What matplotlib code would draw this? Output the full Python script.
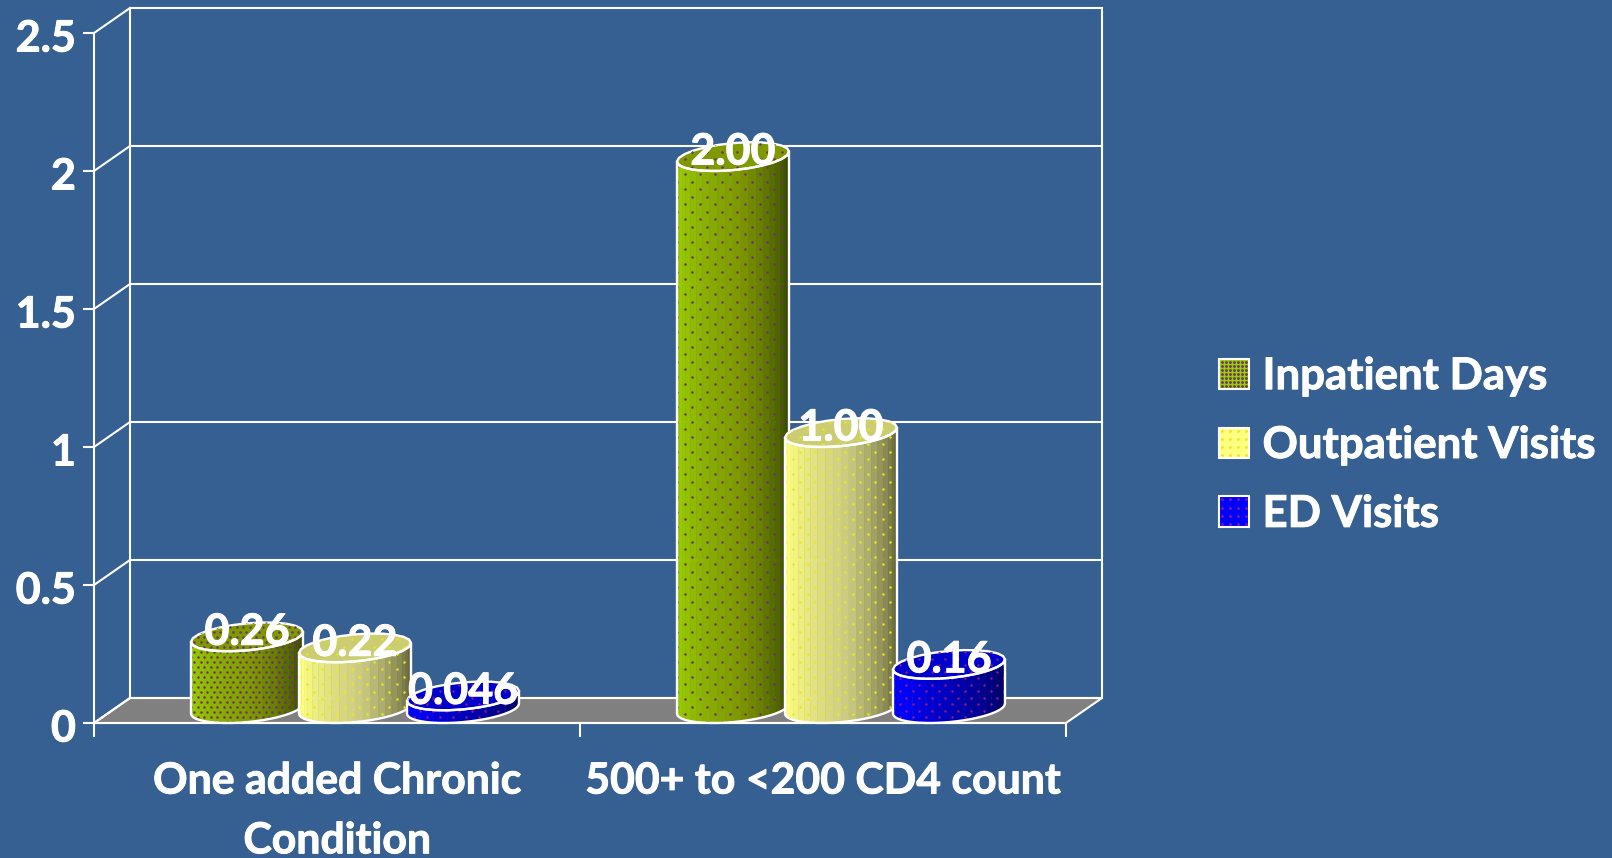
# -*- coding: utf-8 -*-
import numpy as np
import matplotlib
matplotlib.use("Agg")
import matplotlib.pyplot as plt
import matplotlib.patheffects as pe
from matplotlib.colors import LinearSegmentedColormap
from matplotlib.legend_handler import HandlerBase
from matplotlib.lines import Line2D
from matplotlib.patches import Polygon, Rectangle
from matplotlib.transforms import ScaledTranslation

# values
categories = ["One added Chronic\nCondition", "500+ to <200 CD4 count"]
series_names = ["Inpatient Days", "Outpatient Visits", "ED Visits"]
inpatient_days = [0.26, 2.00]
outpatient_visits = [0.22, 1.00]
ed_visits = [0.046, 0.16]
value_labels = [["0.26", "2.00"], ["0.22", "1.00"], ["0.046", "0.16"]]
y_ticks = [0, 0.5, 1, 1.5, 2, 2.5]
y_tick_labels = ["0", "0.5", "1", "1.5", "2", "2.5"]

# style
BG = "#366092"
FONT = "Lato"
W, H = 1612, 858
FRONT_L, FRONT_R, FRONT_B, FRONT_T = 94, 1066, 723, 33
DEPTH_X, DEPTH_Y = 36, 25
LW = 1.5

shades = [
    LinearSegmentedColormap.from_list("g", [(0, "#8fbb00"), (0.1, "#99cc00"), (0.55, "#7d9600"), (1, "#2c3a00")]),
    LinearSegmentedColormap.from_list("y", [(0, "#ffffb0"), (0.1, "#ffff80"), (0.55, "#c9c980"), (1, "#55552c")]),
    LinearSegmentedColormap.from_list("b", [(0, "#0000e0"), (0.2, "#0000ff"), (0.55, "#0000b0"), (1, "#000050")]),
]
top_colors = ["#7f9900", "#cccc70", "#0000cc"]
dot_colors = ["#6e2f70", "#e8e820", "#8a1a8a"]
THICK = [pe.withStroke(linewidth=0.7, foreground="white")]

plt.rcParams["font.family"] = [FONT, "DejaVu Sans"]
plt.rcParams["font.weight"] = "bold"

fig = plt.figure(figsize=(W / 100, H / 100), dpi=100, facecolor=BG)
ax = fig.add_axes([FRONT_L / W, (H - FRONT_B) / H,
                   (FRONT_R - FRONT_L) / W, (FRONT_B - FRONT_T) / H])
ax.set_xlim(0, 2)
ax.set_ylim(0, 2.5)
ax.patch.set_alpha(0)

# data units per pixel
ux = 2 / (FRONT_R - FRONT_L)
uy = 2.5 / (FRONT_B - FRONT_T)
dx = DEPTH_X * ux
dy = DEPTH_Y * uy
LINE = dict(color="white", lw=LW, clip_on=False, solid_capstyle="projecting")

# floor and back walls
ax.add_patch(Polygon([(0, 0), (2, 0), (2 + dx, dy), (dx, dy)], facecolor="#808080",
                     edgecolor="white", lw=LW, clip_on=False, zorder=1))
for t in y_ticks:
    ax.plot([dx, 2 + dx], [t + dy, t + dy], zorder=1.5, **LINE)
    ax.plot([0, dx], [t, t + dy], zorder=1.5, **LINE)
ax.plot([dx, dx], [dy, 2.5 + dy], zorder=1.5, **LINE)
ax.plot([2 + dx, 2 + dx], [dy, 2.5 + dy], zorder=1.5, **LINE)


def draw_cylinder(x, value, idx, row_step, col_step, z):
    a = 56 * ux
    b = 13.5 * uy
    s = 5 * uy
    cx = x + dx / 2
    cy = 14.4 * uy
    ts = np.linspace(np.pi, 2 * np.pi, 23)
    xs = cx + a * np.cos(ts)
    ys = cy + b * np.sin(ts) + s * np.cos(ts)
    for i in range(len(ts) - 1):
        f = (i + 0.5) / (len(ts) - 1)
        ax.add_patch(Polygon([(xs[i], ys[i]), (xs[i + 1], ys[i + 1]),
                              (xs[i + 1], ys[i + 1] + value), (xs[i], ys[i] + value)],
                             facecolor=shades[idx](f), edgecolor=shades[idx](f), lw=0.3,
                             clip_on=False, zorder=z))
    outline = np.vstack([np.column_stack([xs, ys]),
                         np.column_stack([xs[::-1], ys[::-1] + value])])
    ax.add_patch(Polygon(outline, fill=False, edgecolor="white", lw=LW + 0.2, clip_on=False,
                         zorder=z + 0.3, joinstyle="round"))

    # top cap
    tt = np.linspace(0, 2 * np.pi, 25)
    cap = np.column_stack([cx + a * np.cos(tt),
                           cy + value + b * np.sin(tt) + s * np.cos(tt)])
    ax.add_patch(Polygon(cap, facecolor=top_colors[idx], edgecolor="white", lw=LW + 0.2,
                         clip_on=False, zorder=z + 0.1))

    # printed dot pattern over the side and the cap
    rows = np.arange(ys.min() - 14 * uy, ys.max() + value + 14 * uy, row_step * uy)
    px, py = [], []
    for r, yr in enumerate(rows):
        start = cx - a + (col_step / 2 if r % 2 else 0) * ux
        cols = np.arange(start, cx + a, col_step * ux)
        px.extend(cols)
        py.extend([yr] * len(cols))
    side_dots = ax.scatter(px, py, s=3.2, color=dot_colors[idx], linewidths=0, zorder=z + 0.05)
    side_dots.set_clip_path(Polygon(outline, transform=ax.transData))
    cap_dots = ax.scatter(px, py, s=3.2, color=dot_colors[idx], linewidths=0, zorder=z + 0.2)
    cap_dots.set_clip_path(Polygon(cap, transform=ax.transData))


all_series = [inpatient_days, outpatient_visits, ed_visits]
bar_step = 108 * ux
for c in range(len(categories)):
    for i, vals in enumerate(all_series):
        x = c + 0.5 + (i - 1) * bar_step
        # the first green column has a tighter pattern than the others
        if c == 0 and i == 0:
            steps = (5, 6.5)
        elif i == 2:
            steps = (6.5, 13)
        else:
            steps = (7.5, 15)
        draw_cylinder(x, vals[c], i, steps[0], steps[1], 3 + i + c * 4)
        ax.annotate(value_labels[i][c], (x + dx / 2, vals[c] + dy / 2), xytext=(0, 7),
                    textcoords="offset pixels", ha="center", va="center", color="white",
                    fontsize=31, fontweight="bold", zorder=30, annotation_clip=False,
                    path_effects=THICK)

# axis lines, ticks, labels
for name in ["top", "right"]:
    ax.spines[name].set_visible(False)
for name in ["left", "bottom"]:
    ax.spines[name].set_color("white")
    ax.spines[name].set_linewidth(LW)
    ax.spines[name].set_zorder(2)
ax.set_yticks(y_ticks)
ax.set_yticklabels(y_tick_labels)
ax.set_xticks([0, 1, 2])
ax.set_xticklabels([])
ax.set_xticks([0.5, 1.5], minor=True)
ax.set_xticklabels(categories, minor=True, linespacing=1.6)
ax.tick_params(axis="y", colors="white", length=8, width=LW, labelsize=31, pad=5)
ax.tick_params(axis="x", which="major", colors="white", length=10, width=LW)
ax.tick_params(axis="x", which="minor", colors="white", length=0, labelsize=30.8, pad=27)
shift = ScaledTranslation(0, -2 / 100, fig.dpi_scale_trans)
for lab in ax.get_yticklabels():
    lab.set_transform(lab.get_transform() + shift)
    lab.set_path_effects(THICK)
for lab in ax.get_xticklabels(minor=True):
    lab.set_path_effects(THICK)


class DottedSwatch(HandlerBase):
    def create_artists(self, legend, orig_handle, xd, yd, width, height, fontsize, trans):
        i = series_names.index(orig_handle.get_label())
        rect = Rectangle((-xd, -yd), width, height, facecolor=orig_handle.get_facecolor(),
                         edgecolor="white", lw=LW, transform=trans)
        n = 7 if i == 0 else 4
        gx, gy = np.meshgrid(np.linspace(0.1, 0.9, n), np.linspace(0.1, 0.9, n))
        dots = Line2D(-xd + gx.ravel() * width, -yd + gy.ravel() * height, ls="none",
                      marker="o", ms=2, mew=0, color=dot_colors[i], transform=trans)
        return [rect, dots]


swatch_colors = ["#99cc00", "#ffff80", "#0000ff"]
handles = [Rectangle((0, 0), 1, 1, facecolor=col, label=name)
           for col, name in zip(swatch_colors, series_names)]
leg = fig.legend(handles=handles, handler_map={Rectangle: DottedSwatch()},
                 loc="center left", bbox_to_anchor=(1219 / W, (H - 445) / H),
                 frameon=False, fontsize=31.5, labelcolor="white", borderpad=0, borderaxespad=0,
                 handlelength=0.685, handleheight=0.685, handletextpad=0.31, labelspacing=0.66)
for txt in leg.get_texts():
    txt.set_path_effects(THICK)

fig.savefig("out.png", dpi=100, facecolor=BG)
